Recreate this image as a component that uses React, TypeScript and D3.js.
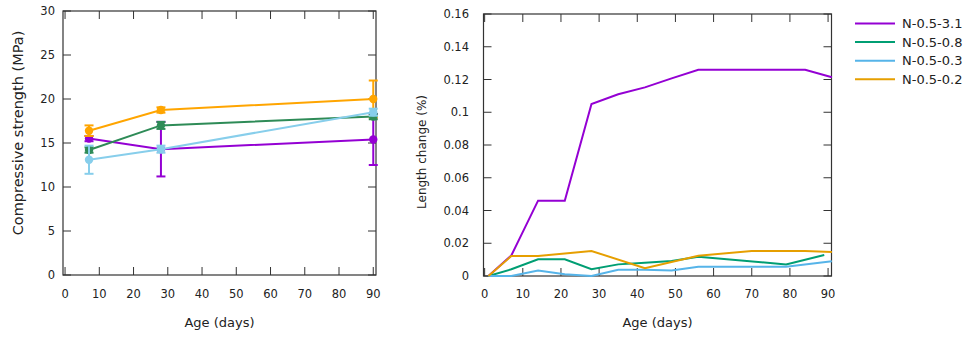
import { useEffect, useRef } from 'react';
import * as d3 from 'd3';

// --- left panel: compressive strength ---
const strengthDays = [7, 28, 90];
const s31 = [15.5, 14.3, 15.4];
const s31Err = [0.3, 3.1, 2.9];
const s08 = [14.2, 17.0, 18.0];
const s08Err = [0.3, 0.4, 0.3];
const s03 = [13.1, 14.3, 18.5];
const s03Err = [1.6, 0.4, 0.4];
const s02 = [16.4, 18.75, 20.0];
const s02Err = [0.6, 0.3, 2.1];
const strengthTicks = [0, 5, 10, 15, 20, 25, 30];

// --- right panel: length change ---
const l31Days = [1, 7, 14, 21, 28, 35, 42, 49, 56, 84, 91];
const l31 = [0, 0.0126, 0.046, 0.046, 0.105, 0.111, 0.1152, 0.1207, 0.126, 0.126, 0.1214];
const l08Days = [1, 7, 14, 21, 28, 35, 42, 49, 56, 79, 89];
const l08 = [0, 0.0041, 0.0102, 0.0102, 0.0041, 0.0071, 0.0081, 0.0092, 0.0118, 0.0071, 0.0128];
const l03Days = [1, 7, 14, 21, 28, 35, 42, 49, 56, 79, 91];
const l03 = [0, 0, 0.0033, 0.001, 0, 0.0038, 0.0038, 0.0033, 0.0057, 0.0057, 0.009];
const l02Days = [1, 7, 14, 28, 42, 56, 70, 84, 91];
const l02 = [0, 0.0122, 0.0122, 0.0153, 0.0047, 0.0124, 0.0153, 0.0153, 0.0147];
const lengthTicks = [0, 0.02, 0.04, 0.06, 0.08, 0.1, 0.12, 0.14, 0.16];

const dayTicks = [0, 10, 20, 30, 40, 50, 60, 70, 80, 90];
const seriesNames = ['N-0.5-3.1', 'N-0.5-0.8', 'N-0.5-0.3', 'N-0.5-0.2'];

const App = () => {
    const ref = useRef<SVGSVGElement>(null);

    useEffect(() => {
        const svg = d3.select(ref.current);
        svg.selectAll('*').remove();
        const font = 'DejaVu Sans, Verdana, sans-serif';
        const frameColor = '#333';
        const tickLen = 8;

        // gnuplot-like box with mirrored inside ticks
        const drawFrame = (x, y, xt, yt, yFmt, yLabelX, title, titleX, titleY, titleSize) => {
            const [x0, x1] = x.range();
            const [y0, y1] = y.range();
            const g = svg.append('g');
            g.append('rect')
                .attr('x', x0).attr('y', y1)
                .attr('width', x1 - x0).attr('height', y0 - y1)
                .attr('fill', 'none').attr('stroke', frameColor).attr('stroke-width', 1.2);
            xt.forEach(t => {
                g.append('line').attr('x1', x(t)).attr('x2', x(t)).attr('y1', y0).attr('y2', y0 - tickLen)
                    .attr('stroke', frameColor);
                g.append('line').attr('x1', x(t)).attr('x2', x(t)).attr('y1', y1).attr('y2', y1 + tickLen)
                    .attr('stroke', frameColor);
                g.append('text').attr('x', x(t)).attr('y', 298)
                    .attr('text-anchor', 'middle').attr('font-family', font).attr('font-size', 11.5)
                    .attr('fill', '#222').text(t);
            });
            yt.forEach(t => {
                g.append('line').attr('x1', x0).attr('x2', x0 + tickLen).attr('y1', y(t)).attr('y2', y(t))
                    .attr('stroke', frameColor);
                g.append('line').attr('x1', x1).attr('x2', x1 - tickLen).attr('y1', y(t)).attr('y2', y(t))
                    .attr('stroke', frameColor);
                g.append('text').attr('x', yLabelX).attr('y', y(t)).attr('dy', '0.36em')
                    .attr('text-anchor', 'end').attr('font-family', font).attr('font-size', 11.5)
                    .attr('fill', '#222').text(yFmt(t));
            });
            g.append('text').attr('x', (x0 + x1) / 2).attr('y', 327)
                .attr('text-anchor', 'middle').attr('font-family', font).attr('font-size', 13)
                .attr('fill', '#222').text('Age (days)');
            g.append('text')
                .attr('transform', `translate(${titleX},${titleY}) rotate(-90)`)
                .attr('text-anchor', 'middle').attr('font-family', font).attr('font-size', titleSize)
                .attr('fill', '#222').text(title);
        };

        // ---------- left panel ----------
        const xL = d3.scaleLinear().domain([-0.6, 90.8]).range([63, 376]);
        const yL = d3.scaleLinear().domain([0, 30]).range([275, 11]);
        drawFrame(xL, yL, dayTicks, strengthTicks, d => d, 55,
            'Compressive strength (MPa)', 23, 133, 14.5);
        const lcols = ['#9400D3', '#FFA500', '#2E8B57', '#87CEEB'];
        const lvals = [s31, s02, s08, s03];
        const lerrs = [s31Err, s02Err, s08Err, s03Err];
        const lineL = d3.line<number>().x((d, i) => xL(strengthDays[i])).y(d => yL(d));
        lvals.forEach((vals, k) => {
            const g = svg.append('g');
            const c = lcols[k];
            g.append('path').attr('d', lineL(vals)).attr('fill', 'none')
                .attr('stroke', c).attr('stroke-width', 2);
            vals.forEach((v, i) => {
                const cx = xL(strengthDays[i]);
                const e = lerrs[k][i];
                g.append('line').attr('x1', cx).attr('x2', cx)
                    .attr('y1', yL(v - e)).attr('y2', yL(v + e)).attr('stroke', c).attr('stroke-width', 2);
                [v - e, v + e].forEach(b => {
                    g.append('line').attr('x1', cx - 4.5).attr('x2', cx + 4.5)
                        .attr('y1', yL(b)).attr('y2', yL(b)).attr('stroke', c).attr('stroke-width', 2);
                });
                g.append('circle').attr('cx', cx).attr('cy', yL(v)).attr('r', 4.2).attr('fill', c);
            });
        });

        // ---------- right panel ----------
        const xR = d3.scaleLinear().domain([-0.3, 90.9]).range([483.5, 831.5]);
        const yR = d3.scaleLinear().domain([0, 0.16]).range([276, 14]);
        drawFrame(xR, yR, dayTicks, lengthTicks, d => String(+d.toFixed(2)), 469,
            'Length change (%)', 426, 152, 12);
        const rcols = ['#9400D3', '#009E73', '#56B4E9', '#E69F00'];
        const rdays = [l31Days, l08Days, l03Days, l02Days];
        const rvals = [l31, l08, l03, l02];
        rvals.forEach((vals, k) => {
            const line = d3.line<number>().x((d, i) => xR(rdays[k][i])).y(d => yR(d));
            svg.append('path').attr('d', line(vals)).attr('fill', 'none')
                .attr('stroke', rcols[k]).attr('stroke-width', 2);
        });

        // legend
        const leg = svg.append('g');
        seriesNames.forEach((name, k) => {
            const y = 23.5 + k * 18.6;
            leg.append('line').attr('x1', 855).attr('x2', 895).attr('y1', y).attr('y2', y)
                .attr('stroke', rcols[k]).attr('stroke-width', 2);
            leg.append('text').attr('x', 902).attr('y', y).attr('dy', '0.36em')
                .attr('font-family', font).attr('font-size', 13).attr('fill', '#222').text(name);
        });
    }, []);

    return (
        <svg ref={ref} width={969} height={338}
            style={{ position: 'absolute', left: 0, top: 0, background: '#fff' }} />
    );
};

export default App;
